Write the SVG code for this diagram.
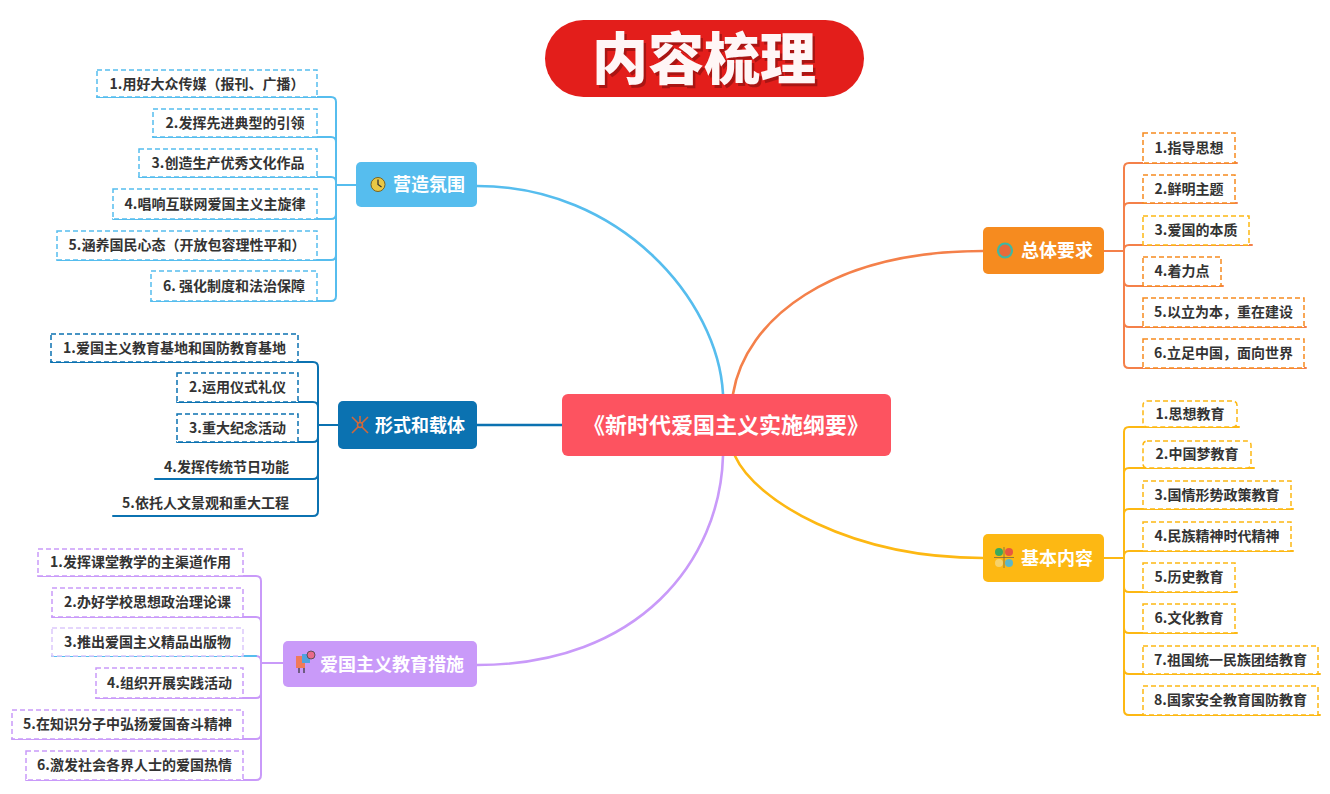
<svg xmlns="http://www.w3.org/2000/svg" width="1330" height="794" viewBox="0 0 1330 794">
<style>
text{font-family:"Noto Sans CJK SC","Noto Sans",sans-serif;font-weight:bold}
.leaf{font-size:14px;fill:#333333;text-anchor:middle}
.node{font-size:18px;fill:#ffffff}
.box{fill:#ffffff;stroke-width:1.5;stroke-dasharray:5,3}
.ln{fill:none;stroke-width:2;stroke-linecap:round}
.cv{fill:none;stroke-width:2.6;stroke-linecap:round}
.b1{stroke:#56BDEE}.b2{stroke:#0B72B1}.b3{stroke:#C99AF9}.b3l{stroke:#DCC7FB}.b4{stroke:#F4804A}.b4d{stroke:#F68B1F}.b5{stroke:#FDB813}
</style>
<rect width="1330" height="794" fill="#ffffff"/>

<g id="title">
<rect x="545" y="20" width="319" height="77" rx="38.5" fill="#E31E1B"/>
<text x="706.5" y="81.5" text-anchor="middle" font-size="56" style="font-weight:900" fill="#7a0e0c" fill-opacity="0.55">内容梳理</text>
<text x="704" y="79" text-anchor="middle" font-size="56" style="font-weight:900" fill="#FFF6F6">内容梳理</text>
</g>

<g id="connectors">
<path class="cv b1" d="M477,186 C620,186 718,300 723,394"/>
<path class="cv b4" d="M733,394 C745,320 830,251 983,251"/>
<path class="cv b5" d="M735,456 C755,500 850,558 983,558"/>
<path class="cv b3" d="M723,456 C720,560 640,665 477,665"/>
<path class="cv b2" d="M477,425 H562"/>

<!-- 营造氛围 -->
<path class="ln b1" d="M356,185 H336"/>
<path class="ln b1" d="M336,185 V102 Q336,97 331,97 H97"/>
<path class="ln b1" d="M336,185 V142 Q336,137 331,137 H153"/>
<path class="ln b1" d="M336,185 V182 Q336,177 331,177 H139"/>
<path class="ln b1" d="M336,185 V214 Q336,219 331,219 H113"/>
<path class="ln b1" d="M336,185 V255 Q336,260 331,260 H57"/>
<path class="ln b1" d="M336,185 V296 Q336,301 331,301 H151"/>

<!-- 形式和载体 -->
<path class="ln b2" d="M338,425 H318"/>
<path class="ln b2" d="M318,425 V367 Q318,362 313,362 H51"/>
<path class="ln b2" d="M318,425 V407 Q318,402 313,402 H177"/>
<path class="ln b2" d="M318,425 V437 Q318,442 313,442 H177"/>
<path class="ln b2" d="M318,425 V474 Q318,479 313,479 H155"/>
<path class="ln b2" d="M318,425 V511 Q318,516 313,516 H113"/>

<!-- 爱国主义教育措施 -->
<path class="ln b3" d="M283,663 H261"/>
<path class="ln b3" d="M261,663 V581 Q261,576 256,576 H38"/>
<path class="ln b3" d="M261,663 V622 Q261,617 256,617 H52"/>
<path class="ln b3" d="M261,663 V661 Q261,656 256,656"/>
<path class="ln b1" d="M256,656 H52"/>
<path class="ln b3" d="M261,663 V693 Q261,698 256,698 H96"/>
<path class="ln b3" d="M261,663 V734 Q261,739 256,739 H12"/>
<path class="ln b3" d="M261,663 V775 Q261,780 256,780 H26"/>

<!-- 总体要求 -->
<path class="ln b4" d="M1104,251 H1124"/>
<path class="ln b4" d="M1124,251 V168 Q1124,163 1129,163 H1237"/>
<path class="ln b4" d="M1124,251 V208 Q1124,203 1129,203 H1237"/>
<path class="ln b4" d="M1124,251 V250 Q1124,245 1129,245 H1252"/>
<path class="ln b4" d="M1124,251 V281 Q1124,286 1129,286 H1223"/>
<path class="ln b4" d="M1124,251 V322 Q1124,327 1129,327 H1306"/>
<path class="ln b4" d="M1124,251 V363 Q1124,368 1129,368 H1306"/>

<!-- 基本内容 -->
<path class="ln b5" d="M1104,558 H1124"/>
<path class="ln b5" d="M1124,558 V432 Q1124,427 1129,427 H1239"/>
<path class="ln b5" d="M1124,558 V473 Q1124,468 1129,468 H1254"/>
<path class="ln b5" d="M1124,558 V514 Q1124,509 1129,509 H1293"/>
<path class="ln b5" d="M1124,558 V556 Q1124,551 1129,551 H1293"/>
<path class="ln b5" d="M1124,558 V587 Q1124,592 1129,592 H1237"/>
<path class="ln b5" d="M1124,558 V628 Q1124,633 1129,633 H1237"/>
<path class="ln b5" d="M1124,558 V669 Q1124,674 1129,674 H1320"/>
<path class="ln b5" d="M1124,558 V710 Q1124,715 1129,715 H1320"/>
</g>

<g id="center">
<rect x="562" y="394" width="329" height="62" rx="6" fill="#FD5360"/>
<text x="726" y="433" text-anchor="middle" font-size="22" fill="#ffffff">《新时代爱国主义实施纲要》</text>
</g>

<g id="n-yingzao">
<rect x="356" y="162" width="121" height="45" rx="5" fill="#56BDEE"/>
<circle cx="378" cy="184.5" r="7" fill="#E9C844" stroke="#7a6420" stroke-width="1"/>
<path d="M378,179.5 V184.5 L381.5,187" fill="none" stroke="#333" stroke-width="1.3"/>
<text class="node" x="393" y="191">营造氛围</text>
</g>

<g id="n-xingshi">
<rect x="338" y="401" width="139" height="48" rx="5" fill="#0B72B1"/>
<g stroke="#D2683A" stroke-width="1.6" fill="none">
<path d="M352,417 L368,433 M368,417 L352,433 M360,425 L360,416"/>
<circle cx="360" cy="425" r="2.5" fill="#0B72B1"/>
</g>
<text class="node" x="375" y="432">形式和载体</text>
</g>

<g id="n-cuoshi">
<rect x="283" y="641" width="194" height="46" rx="5" fill="#C99AF9"/>
<rect x="296" y="656" width="9" height="12" fill="#F07A5A"/>
<rect x="302" y="654" width="8" height="9" fill="#4FA3E0"/>
<circle cx="311" cy="655" r="4" fill="#E86A8A" stroke="#444" stroke-width="0.8"/>
<path d="M299,668 V673 M304,668 V673" stroke="#333" stroke-width="1.2"/>
<text class="node" x="320" y="671">爱国主义教育措施</text>
</g>

<g id="n-zongti">
<rect x="983" y="227" width="121" height="47" rx="5" fill="#F68B1F"/>
<circle cx="1005" cy="250.5" r="7" fill="#E86A3A" stroke="#3DB8A4" stroke-width="2.2"/>
<text class="node" x="1021" y="257">总体要求</text>
</g>

<g id="n-jiben">
<rect x="983" y="534" width="121" height="48" rx="5" fill="#FDB813"/>
<circle cx="999" cy="552" r="4" fill="#3BAA5C"/>
<circle cx="1009" cy="552" r="4" fill="#E9573F"/>
<circle cx="999" cy="563" r="4" fill="#F6D26B"/>
<circle cx="1009" cy="563" r="4" fill="#5BB7C9"/>
<path d="M994,557.5 H1014 M1004,547 V568" stroke="#7a6a40" stroke-width="0.8"/>
<text class="node" x="1021" y="565">基本内容</text>
</g>

<g id="leaves-yingzao">
<rect class="box b1" x="97" y="70" width="220" height="27"/><text class="leaf" x="207" y="89">1.用好大众传媒（报刊、广播）</text>
<rect class="box b1" x="153" y="109" width="164" height="28"/><text class="leaf" x="235" y="128">2.发挥先进典型的引领</text>
<rect class="box b1" x="139" y="149" width="178" height="28"/><text class="leaf" x="228" y="168">3.创造生产优秀文化作品</text>
<rect class="box b1" x="113" y="189" width="204" height="30"/><text class="leaf" x="215" y="209">4.唱响互联网爱国主义主旋律</text>
<rect class="box b1" x="57" y="231" width="260" height="29"/><text class="leaf" x="187" y="250">5.涵养国民心态（开放包容理性平和）</text>
<rect class="box b1" x="151" y="271" width="166" height="30"/><text class="leaf" x="234" y="291">6. 强化制度和法治保障</text>
</g>

<g id="leaves-xingshi">
<rect class="box b2" x="51" y="334" width="247" height="28"/><text class="leaf" x="174.5" y="353">1.爱国主义教育基地和国防教育基地</text>
<rect class="box b2" x="177" y="373" width="121" height="29"/><text class="leaf" x="237.5" y="392">2.运用仪式礼仪</text>
<rect class="box b2" x="177" y="414" width="121" height="28"/><text class="leaf" x="237.5" y="433">3.重大纪念活动</text>
<text class="leaf" x="226.5" y="472">4.发挥传统节日功能</text>
<text class="leaf" x="205.5" y="508">5.依托人文景观和重大工程</text>
</g>

<g id="leaves-cuoshi">
<rect class="box b3" x="38" y="549" width="205" height="27"/><text class="leaf" x="140.5" y="567">1.发挥课堂教学的主渠道作用</text>
<rect class="box b3" x="52" y="588" width="191" height="29"/><text class="leaf" x="147.5" y="607">2.办好学校思想政治理论课</text>
<rect class="box b3l" x="52" y="628" width="191" height="28"/><text class="leaf" x="147.5" y="647">3.推出爱国主义精品出版物</text>
<rect class="box b3" x="96" y="668" width="147" height="30"/><text class="leaf" x="169.5" y="688">4.组织开展实践活动</text>
<rect class="box b3" x="12" y="710" width="231" height="29"/><text class="leaf" x="127.5" y="729">5.在知识分子中弘扬爱国奋斗精神</text>
<rect class="box b3" x="26" y="751" width="217" height="29"/><text class="leaf" x="134.5" y="770">6.激发社会各界人士的爱国热情</text>
</g>

<g id="leaves-zongti">
<rect class="box b4d" x="1143" y="133" width="92" height="30"/><text class="leaf" x="1189" y="153">1.指导思想</text>
<rect class="box b4d" x="1143" y="175" width="92" height="28"/><text class="leaf" x="1189" y="194">2.鲜明主题</text>
<rect class="box b5" x="1143" y="216" width="106" height="29"/><text class="leaf" x="1196" y="235">3.爱国的本质</text>
<rect class="box b4d" x="1143" y="257" width="78" height="29"/><text class="leaf" x="1182" y="276">4.着力点</text>
<rect class="box b4d" x="1143" y="298" width="161" height="29"/><text class="leaf" x="1223.5" y="317">5.以立为本，重在建设</text>
<rect class="box b4d" x="1143" y="339" width="161" height="29"/><text class="leaf" x="1223.5" y="358">6.立足中国，面向世界</text>
</g>

<g id="leaves-jiben">
<rect class="box b5" x="1143" y="401" width="94" height="26" rx="4"/><text class="leaf" x="1190" y="419">1.思想教育</text>
<rect class="box b5" x="1143" y="441" width="108" height="27" rx="4"/><text class="leaf" x="1197" y="459">2.中国梦教育</text>
<rect class="box b5" x="1143" y="481" width="148" height="28"/><text class="leaf" x="1217" y="500">3.国情形势政策教育</text>
<rect class="box b5" x="1143" y="522" width="148" height="29"/><text class="leaf" x="1217" y="541">4.民族精神时代精神</text>
<rect class="box b5" x="1143" y="563" width="92" height="29"/><text class="leaf" x="1189" y="582">5.历史教育</text>
<rect class="box b5" x="1143" y="604" width="92" height="29"/><text class="leaf" x="1189" y="623">6.文化教育</text>
<rect class="box b5" x="1143" y="646" width="175" height="28"/><text class="leaf" x="1230.5" y="665">7.祖国统一民族团结教育</text>
<rect class="box b5" x="1143" y="686" width="175" height="29"/><text class="leaf" x="1230.5" y="705">8.国家安全教育国防教育</text>
</g>
</svg>
